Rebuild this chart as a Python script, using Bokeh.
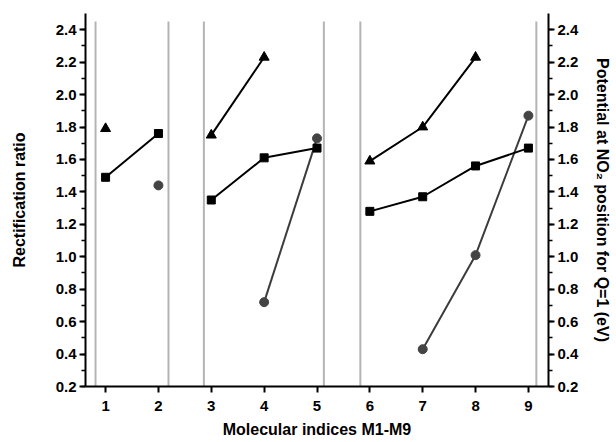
from bokeh.plotting import figure
from bokeh.models import LinearAxis, Range1d, SingleIntervalTicker, FixedTicker, NumeralTickFormatter
from bokeh.embed import file_html
from bokeh.resources import INLINE

# Rectification ratio (squares), grouped by molecular series
square_groups_x = [[1, 2], [3, 4, 5], [6, 7, 8, 9]]
square_groups_y = [[1.49, 1.76], [1.35, 1.61, 1.67], [1.28, 1.37, 1.56, 1.67]]

# Triangles
tri_groups_x = [[1], [3, 4], [6, 7, 8]]
tri_groups_y = [[1.79], [1.75, 2.23], [1.59, 1.80, 2.23]]

# Potential at NO2 position (circles, right axis)
circ_groups_x = [[2], [4, 5], [7, 8, 9]]
circ_groups_y = [[1.44], [0.72, 1.73], [0.43, 1.01, 1.87]]

# Group separators
separator_x = [0.81, 2.19, 2.86, 5.13, 5.82, 9.15]
separator_top = 2.45

x_ticks = [1, 2, 3, 4, 5, 6, 7, 8, 9]

right_title = "Potential at NO\u2082 position for Q=1 (eV)"

FONT = "Liberation Sans"

p = figure(width=616, height=442, output_backend="svg", toolbar_location=None,
           x_range=Range1d(0.62, 9.38), y_range=Range1d(0.2, 2.5),
           min_border_left=85, min_border_right=68, min_border_top=13, min_border_bottom=56)
p.outline_line_color = None
p.grid.visible = False
p.background_fill_color = "white"
p.border_fill_color = "white"

p.extra_y_ranges = {"pot": Range1d(0.2, 2.5)}

# separators
p.segment(x0=separator_x, y0=[0.2] * len(separator_x), x1=separator_x,
          y1=[separator_top] * len(separator_x), line_color="#b4b4b4", line_width=2)

for xs, ys in zip(circ_groups_x, circ_groups_y):
    if len(xs) > 1:
        p.line(xs, ys, line_color="#3c3c3c", line_width=2, y_range_name="pot")
    p.scatter(xs, ys, marker="circle", size=9, fill_color="#444444", line_color="#444444",
              y_range_name="pot")

for xs, ys in zip(square_groups_x, square_groups_y):
    if len(xs) > 1:
        p.line(xs, ys, line_color="black", line_width=2)
    p.scatter(xs, ys, marker="square", size=8, fill_color="black", line_color="black")

for xs, ys in zip(tri_groups_x, tri_groups_y):
    if len(xs) > 1:
        p.line(xs, ys, line_color="black", line_width=2)
    p.scatter(xs, ys, marker="triangle", size=10, fill_color="black", line_color="black")


def style_axis(ax):
    ax.axis_line_width = 2
    ax.axis_line_color = "black"
    ax.major_tick_line_width = 2
    ax.minor_tick_line_width = 1.5
    ax.major_tick_out = 6
    ax.major_tick_in = 0
    ax.minor_tick_out = 4
    ax.minor_tick_in = 0
    ax.major_label_text_font = FONT
    ax.major_label_text_font_style = "bold"
    ax.major_label_text_font_size = "15px"
    ax.major_label_text_color = "black"
    ax.axis_label_text_font = FONT
    ax.axis_label_text_font_style = "bold"
    ax.axis_label_text_font_size = "16px"
    ax.axis_label_text_color = "black"


yl = p.yaxis[0]
yl.ticker = SingleIntervalTicker(interval=0.2, num_minor_ticks=2)
yl.formatter = NumeralTickFormatter(format="0.0")
yl.axis_label = "Rectification ratio"
style_axis(yl)
yl.major_label_standoff = 3
yl.axis_label_standoff = 25

xa = p.xaxis[0]
xa.ticker = FixedTicker(ticks=x_ticks)
xa.axis_label = "Molecular indices M1-M9"
style_axis(xa)
xa.minor_tick_out = 0
xa.major_label_standoff = 8
xa.axis_label_standoff = 7

yr = LinearAxis(y_range_name="pot", axis_label=right_title,
                ticker=SingleIntervalTicker(interval=0.2, num_minor_ticks=2))
yr.formatter = NumeralTickFormatter(format="0.0")
style_axis(yr)
yr.major_label_standoff = 3
yr.axis_label_standoff = 13
p.add_layout(yr, "right")

open("out.html", "w").write(file_html(p, INLINE))
